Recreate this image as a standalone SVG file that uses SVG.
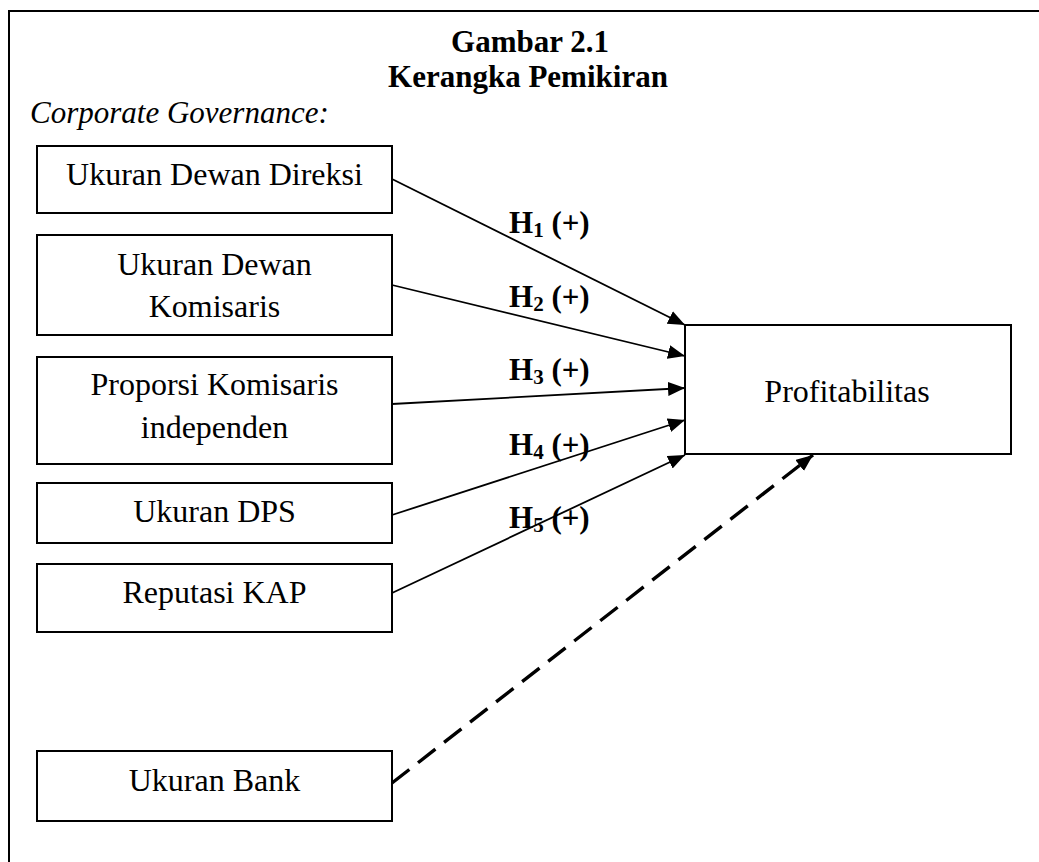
<svg xmlns="http://www.w3.org/2000/svg" width="1039" height="862" viewBox="0 0 1039 862">
<style>
.box{fill:#fff;stroke:#000;stroke-width:2}
.t{font-family:"Liberation Serif","Times New Roman",serif;font-size:32px;fill:#000;text-anchor:middle}
.b{font-weight:bold;font-size:31px}
.h{font-family:"Liberation Serif","Times New Roman",serif;font-size:31px;font-weight:bold;fill:#000}
.ln{stroke:#000;stroke-width:1.8;fill:none}
.dash{stroke:#000;stroke-width:3.4;fill:none;stroke-dasharray:22 11}
</style>
<defs>
<marker id="ah" markerUnits="userSpaceOnUse" markerWidth="18" markerHeight="15" refX="17" refY="7" orient="auto">
<path d="M0,0 L17,7 L0,14 Z" fill="#000"/>
</marker>
</defs>
<rect width="1039" height="862" fill="#fff"/>
<g id="frame">
<path d="M9,862 L9,11 L1039,11" fill="none" stroke="#000" stroke-width="2"/>
</g>
<g id="title">
<text class="t b" x="530" y="52">Gambar 2.1</text>
<text class="t b" x="528" y="87">Kerangka Pemikiran</text>
<text x="30" y="123" font-family="Liberation Serif, Times New Roman, serif" font-size="31" font-style="italic">Corporate Governance:</text>
</g>
<g id="n1"><rect class="box" x="37" y="146" width="355" height="67"/><text class="t" x="214.5" y="185">Ukuran Dewan Direksi</text></g>
<g id="n2"><rect class="box" x="37" y="235" width="355" height="100"/><text class="t" x="214.5" y="275">Ukuran Dewan</text><text class="t" x="214.5" y="317">Komisaris</text></g>
<g id="n3"><rect class="box" x="37" y="357" width="355" height="107"/><text class="t" x="214.5" y="395">Proporsi Komisaris</text><text class="t" x="214.5" y="438">independen</text></g>
<g id="n4"><rect class="box" x="37" y="483" width="355" height="60"/><text class="t" x="214.5" y="522">Ukuran DPS</text></g>
<g id="n5"><rect class="box" x="37" y="564" width="355" height="68"/><text class="t" x="214.5" y="603">Reputasi KAP</text></g>
<g id="n6"><rect class="box" x="37" y="751" width="355" height="70"/><text class="t" x="214.5" y="791">Ukuran Bank</text></g>
<g id="n7"><rect class="box" x="685" y="325" width="326" height="129"/><text class="t" x="847" y="402">Profitabilitas</text></g>
<g id="connectors">
<line class="ln" x1="392" y1="179" x2="685" y2="325" marker-end="url(#ah)"/>
<line class="ln" x1="392" y1="285" x2="685" y2="356" marker-end="url(#ah)"/>
<line class="ln" x1="392" y1="404" x2="685" y2="388" marker-end="url(#ah)"/>
<line class="ln" x1="392" y1="515" x2="685" y2="420" marker-end="url(#ah)"/>
<line class="ln" x1="392" y1="593" x2="685" y2="455" marker-end="url(#ah)"/>
<line class="dash" x1="392" y1="783" x2="813" y2="455" marker-end="url(#ah)"/>
</g>
<g id="labels">
<text class="h" x="509" y="233">H<tspan font-size="21" dy="4">1</tspan><tspan dy="-4"> (+)</tspan></text>
<text class="h" x="509" y="307">H<tspan font-size="21" dy="4">2</tspan><tspan dy="-4"> (+)</tspan></text>
<text class="h" x="509" y="380">H<tspan font-size="21" dy="4">3</tspan><tspan dy="-4"> (+)</tspan></text>
<text class="h" x="509" y="455">H<tspan font-size="21" dy="4">4</tspan><tspan dy="-4"> (+)</tspan></text>
<text class="h" x="509" y="528">H<tspan font-size="21" dy="4">5</tspan><tspan dy="-4"> (+)</tspan></text>
</g>
</svg>
